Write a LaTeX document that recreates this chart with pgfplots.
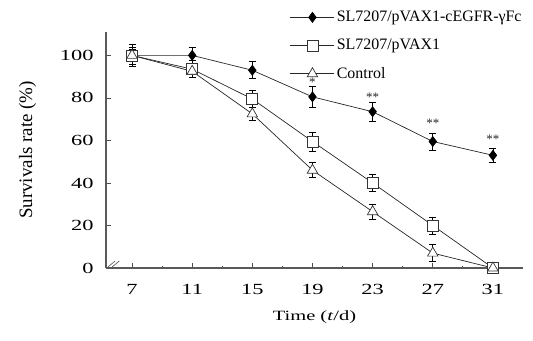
\documentclass[border=0pt]{standalone}
\usepackage{fontspec}
\setmainfont{Liberation Serif}[FakeStretch=1.45]
\newfontfamily\legfont{Liberation Serif}
\usepackage{pgfplots}
\pgfplotsset{compat=1.18}
\begin{document}
\begin{tikzpicture}
\begin{axis}[
  at={(0,0)}, anchor=south west,
  scale only axis,
  width=417bp, height=236bp,
  xmin=5.27, xmax=33, ymin=0, ymax=111,
  axis lines=left,
  axis line style={-, line width=1.3pt, black!65},
  xtick={7,11,15,19,23,27,31},
  ytick={0,20,40,60,80,100},
  minor x tick num=1,
  tick style={black!70, line width=0.8pt},
  major tick length=5bp, minor tick length=2.5bp,
  tick align=inside,
  /pgf/number format/assume math mode=true,
  ticklabel style={font=\fontsize{15.5}{18}\selectfont},
  xlabel style={font=\fontsize{14.2}{17}\selectfont},
  ylabel style={font=\legfont\fontsize{19}{21}\selectfont},
  xlabel={Time (\textit{t}/d)},
  ylabel={Survivals rate (\%)},
  xticklabel style={yshift=-13bp},
  yticklabel style={xshift=-9bp},
  xlabel style={yshift=-9bp},
  ylabel style={yshift=17bp},
  clip=false,
  legend style={at={(0.441,1.097)}, anchor=north west, draw=none, fill=none,
    font=\legfont\fontsize{16}{18}\selectfont, row sep=12bp, inner sep=0pt,
    cells={anchor=west}},
  legend image code/.code={%
    \draw[mark repeat=2,mark phase=2,#1] plot coordinates {(0bp,0bp) (22bp,0bp) (44bp,0bp)};},
  every axis plot/.append style={line width=0.7pt, black!85},
  error bars/error bar style={line width=0.7pt, black},
  error bars/error mark options={rotate=90, mark size=3.5bp, line width=0.7pt},
]
\addplot+[black!85, mark=diamond*, mark size=5bp, mark options={fill=black, draw=black, solid},
  error bars/.cd, y dir=both, y explicit]
  coordinates {(7,100) +- (0,5) (11,100) +- (0,4) (15,93) +- (0,4) (19,80.5) +- (0,5)
   (23,73.5) +- (0,4.5) (27,59.5) +- (0,4) (31,53) +- (0,3.5)};
\addlegendentry{SL7207/pVAX1-cEGFR-γFc}
\addplot+[black!85, mark=square*, mark size=5.5bp, mark options={fill=white, draw=black!80, solid},
  error bars/.cd, y dir=both, y explicit]
  coordinates {(7,100) +- (0,4) (11,93.5) +- (0,4) (15,79.5) +- (0,4) (19,59.5) +- (0,4.5)
   (23,40) +- (0,4) (27,20) +- (0,4) (31,0) +- (0,1)};
\addlegendentry{SL7207/pVAX1}
\addplot+[black!85, mark=triangle*, mark size=6bp, mark options={fill=white, draw=black!80, solid},
  error bars/.cd, y dir=both, y explicit]
  coordinates {(7,100) +- (0,3) (11,92.5) +- (0,3) (15,72.5) +- (0,3) (19,46) +- (0,3.5)
   (23,26.5) +- (0,3.5) (27,7) +- (0,4) (31,0) +- (0,1)};
\addlegendentry{Control}
\addplot[draw=none, mark=none, nodes near coords, point meta=explicit symbolic,
  every node near coord/.append style={font=\legfont\fontsize{13}{13}\selectfont, anchor=center}]
  coordinates {(19,87.5) [*] (23,80.5) [**] (27,68) [**] (31,60.5) [**]};
\draw[black!70, line width=0.6pt] (rel axis cs:0.005,0.005) -- (rel axis cs:0.022,0.03);
\draw[black!70, line width=0.6pt] (rel axis cs:0.015,0.005) -- (rel axis cs:0.032,0.03);
\end{axis}
\pgfresetboundingbox
\path[use as bounding box] (-106bp,-73bp) rectangle (427bp,268bp);
\end{tikzpicture}
\end{document}
